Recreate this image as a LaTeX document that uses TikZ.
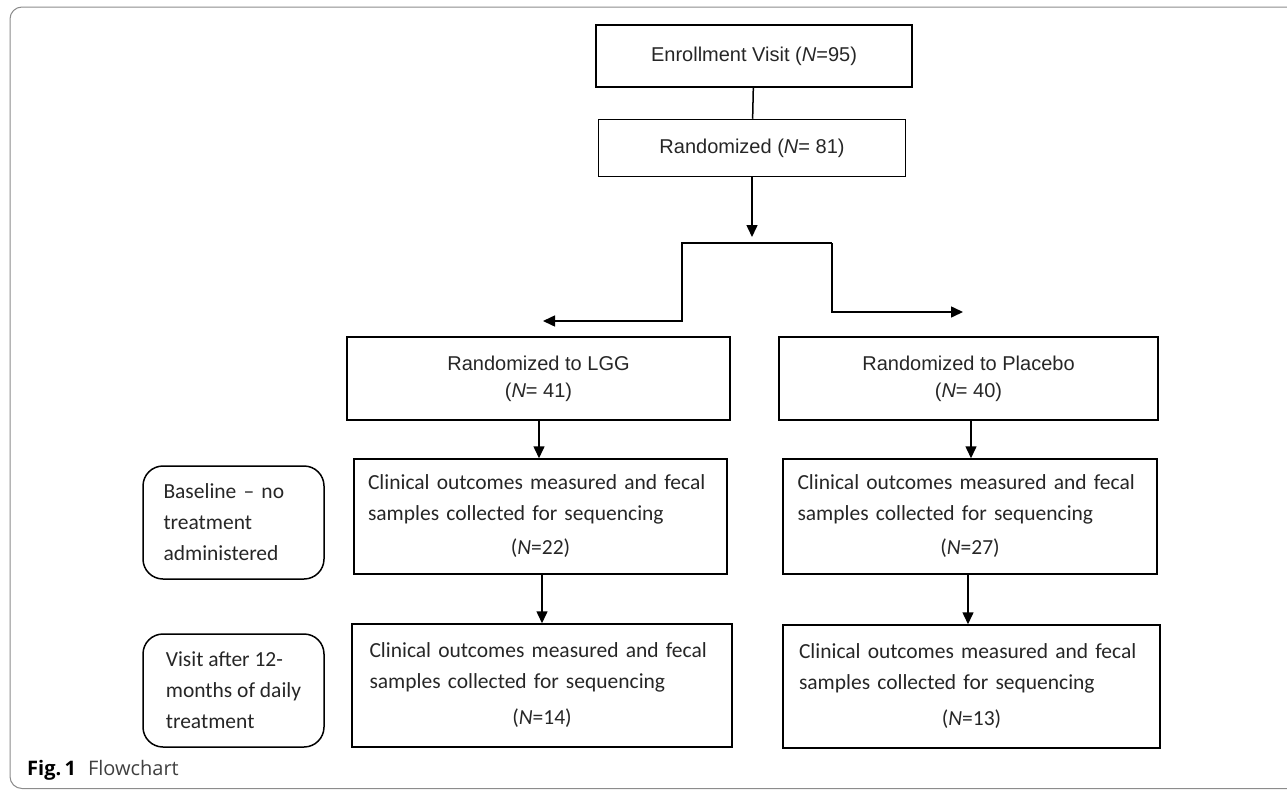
\documentclass[tikz,border=0pt]{standalone}
\usepackage{fontspec}
\setmainfont{Liberation Sans}
\newfontfamily\calibrifont{Carlito}
\newfontfamily\captionfont{Open Sans}
\usetikzlibrary{arrows.meta}

\begin{document}
\begin{tikzpicture}[x=1pt, y=-1pt,
    box/.style={draw, line width=1.5pt, inner sep=0pt, align=center, text=black!85,
        font=\fontsize{20}{27}\selectfont},
    outcome/.style={draw, line width=1.5pt, inner sep=0pt, text width=345pt, align=left, text=black!85,
        font=\calibrifont\fontsize{21.5}{31}\selectfont},
    phase/.style={draw, line width=1.5pt, rounded corners=20pt, inner sep=0pt, align=left,
        text=black!85, font=\calibrifont\fontsize{21.5}{31}\selectfont},
    arr/.style={-{Triangle[length=12pt, width=11pt]}, line width=1.5pt}]
        \useasboundingbox (0,0) rectangle (1287,790);
        \draw[black!45, line width=1pt, rounded corners=12pt] (1300,7) -- (10,7) -- (10,788.5) -- (1300,788.5);

        \node[box, minimum width=316pt, minimum height=62pt] (enroll) at (754,56) {Enrollment Visit (\textit{N}=95)};
        \node[box, minimum width=307pt, minimum height=57pt] (rand) at (752,148) {Randomized (\textit{N}= 81)};
        \node[box, minimum width=383pt, minimum height=83pt] (lgg) at (538.5,378.5) {Randomized to LGG\\(\textit{N}= 41)};
        \node[box, minimum width=379pt, minimum height=83pt] (plac) at (968.5,378.5) {Randomized to Placebo\\(\textit{N}= 40)};

        \node[outcome, minimum width=373pt, minimum height=115pt] (lggbase) at (540.5,516.5)
            {Clinical outcomes measured and fecal\\samples collected for sequencing\\[3pt]\makebox[\linewidth]{(\textit{N}=22)}};
        \node[outcome, minimum width=374pt, minimum height=115pt] (placbase) at (970,516.5)
            {Clinical outcomes measured and fecal\\samples collected for sequencing\\[3pt]\makebox[\linewidth]{(\textit{N}=27)}};
        \node[outcome, minimum width=380pt, minimum height=123pt] (lggyear) at (542,685.5)
            {Clinical outcomes measured and fecal\\samples collected for sequencing\\[5pt]\makebox[\linewidth]{(\textit{N}=14)}};
        \node[outcome, minimum width=377pt, minimum height=123pt] (placyear) at (971.5,686.5)
            {Clinical outcomes measured and fecal\\samples collected for sequencing\\[5pt]\makebox[\linewidth]{(\textit{N}=13)}};

        \node[phase, text width=140pt, minimum width=181pt, minimum height=113pt] (baseline) at (233.5,522.5)
            {Baseline \textendash{} no\\treatment\\administered};
        \node[phase, minimum width=181pt, minimum height=113pt] (visit) at (233.5,690.5)
            {Visit after 12-\\months of daily\\treatment};

        \node[anchor=west, inner sep=0pt, font=\captionfont\fontsize{20}{24}\selectfont] (cap) at (27,770)
            {\textbf{Fig.\,1}\hspace{12pt}\textcolor{black!75}{Flowchart}};

        % split after randomisation
        \coordinate (fork) at (752,237);
        \coordinate (splitL) at (682,243);
        \coordinate (splitR) at (832,243);
        \coordinate (toLGG) at (543,321);
        \coordinate (toPlac) at (963,312);

        \draw[line width=1.5pt] (enroll) -- (rand);
        \draw[arr] (rand) -- (fork);
        \draw[arr] (splitR) -- (splitL) |- (toLGG);
        \draw[arr] (splitR) |- (toPlac);

        \draw[arr] (lgg.south -| 539,0) -- (lggbase.north -| 539,0);
        \draw[arr] (plac.south -| 971,0) -- (placbase.north -| 971,0);
        \draw[arr] (lggbase.south -| 542,0) -- (lggyear.north -| 542,0);
        \draw[arr] (placbase.south -| 968,0) -- (placyear.north -| 968,0);
    \end{tikzpicture}
\end{document}
